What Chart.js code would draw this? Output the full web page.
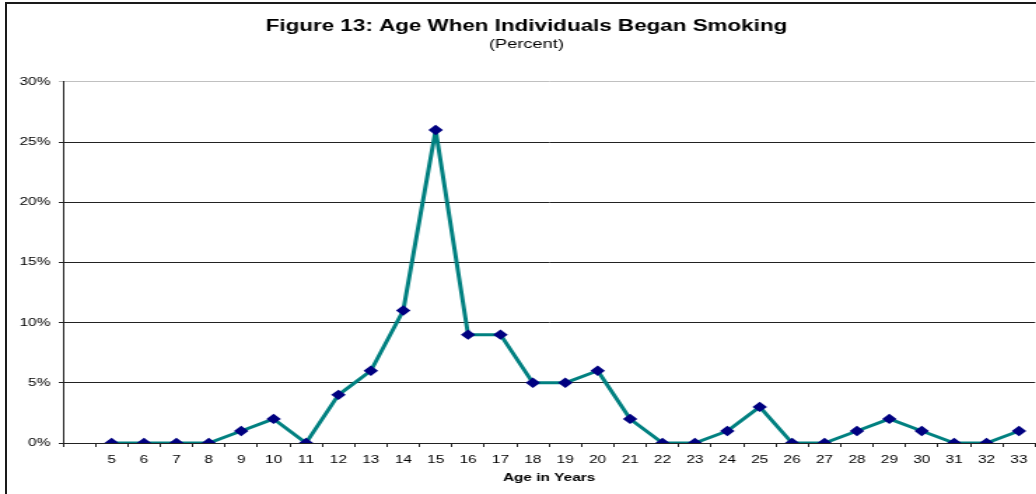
<!DOCTYPE html>
<html>
<head>
<meta charset="utf-8">
<script src="https://cdn.jsdelivr.net/npm/chart.js@4/dist/chart.umd.min.js"></script>
<style>
  html, body { margin: 0; padding: 0; background: #fff; overflow: hidden; width: 1036px; height: 494px; }
  #wrap { position: relative; width: 1036px; height: 494px; overflow: hidden; }
  #c { position: absolute; left: 0; top: 0; background: #fff; }
  #frame { position: absolute; left: 5px; top: 2px; width: 1040px; height: 500px;
           border-left: 2px solid #1a1a1a; border-top: 2px solid #1a1a1a; pointer-events: none; }
</style>
</head>
<body>
<div id="wrap">
  <canvas id="c" width="752" height="494" style="width:1053px;height:494px;"></canvas>
  <div id="frame"></div>
</div>
<script>
// ---- data ----
const chartTitle = 'Figure 13: Age When Individuals Began Smoking';
const chartSubtitle = '(Percent)';
const xAxisTitle = 'Age in Years';
const ages = ['', '5', '6', '7', '8', '9', '10', '11', '12', '13', '14', '15', '16', '17', '18', '19',
              '20', '21', '22', '23', '24', '25', '26', '27', '28', '29', '30', '31', '32', '33'];
const percents = [null, 0, 0, 0, 0, 1, 2, 0, 4, 6, 11, 26, 9, 9, 5, 5,
                  6, 2, 0, 0, 1, 3, 0, 0, 1, 2, 1, 0, 0, 1];
const yTicks = [0, 5, 10, 15, 20, 25, 30];

const FONT = 'Arial, "Liberation Sans", Helvetica, sans-serif';

new Chart(document.getElementById('c'), {
  type: 'line',
  data: {
    labels: ages,
    datasets: [{
      data: percents,
      borderColor: '#008080',
      borderWidth: 3,
      borderJoinStyle: 'round',
      backgroundColor: '#000080',
      pointBackgroundColor: '#000080',
      pointBorderColor: '#000080',
      pointBorderWidth: 0,
      pointStyle: 'rectRot',
      pointRadius: 5.2,
      pointHoverRadius: 5.2,
      tension: 0,
      fill: false
    }]
  },
  options: {
    responsive: false,
    animation: false,
    devicePixelRatio: 1,
    events: [],
    layout: { padding: { top: 17, left: 0, right: 0, bottom: 0 } },
    plugins: {
      legend: { display: false },
      tooltip: { enabled: false },
      title: {
        display: true,
        text: chartTitle,
        color: '#000',
        font: { family: FONT, size: 16, weight: 'bold' },
        padding: { top: 0, bottom: 0 }
      },
      subtitle: {
        display: true,
        text: chartSubtitle,
        color: '#000',
        font: { family: FONT, size: 13, weight: 'normal' },
        padding: { top: 0, bottom: 30 }
      }
    },
    scales: {
      x: {
        type: 'category',
        offset: true,
        grid: {
          offset: true,
          drawOnChartArea: false,
          drawTicks: true,
          tickLength: 4,
          color: '#222',
          lineWidth: 1
        },
        border: { display: true, color: '#222', width: 1 },
        ticks: {
          color: '#000',
          font: { family: FONT, size: 11 },
          padding: 6,
          maxRotation: 0,
          autoSkip: false
        },
        title: {
          display: true,
          text: xAxisTitle,
          color: '#000',
          font: { family: FONT, size: 11, weight: 'bold' },
          padding: { top: 0, bottom: 9 }
        },
        afterFit: (s) => { s.height = 51; s.paddingRight = 12.7; }
      },
      y: {
        min: 0,
        max: 30,
        afterBuildTicks: (s) => { s.ticks = yTicks.map(v => ({ value: v })); },
        grid: {
          drawTicks: true,
          tickLength: 3,
          color: (ctx) => (ctx.tick && ctx.tick.value === 30 ? '#c0c0c0' : '#222'),
          lineWidth: 1
        },
        border: { display: true, color: '#222', width: 1 },
        ticks: {
          color: '#000',
          font: { family: FONT, size: 11 },
          padding: 6,
          callback: (v) => v + '%'
        },
        afterFit: (s) => { s.width = 45; }
      }
    }
  }
});
</script>
</body>
</html>
